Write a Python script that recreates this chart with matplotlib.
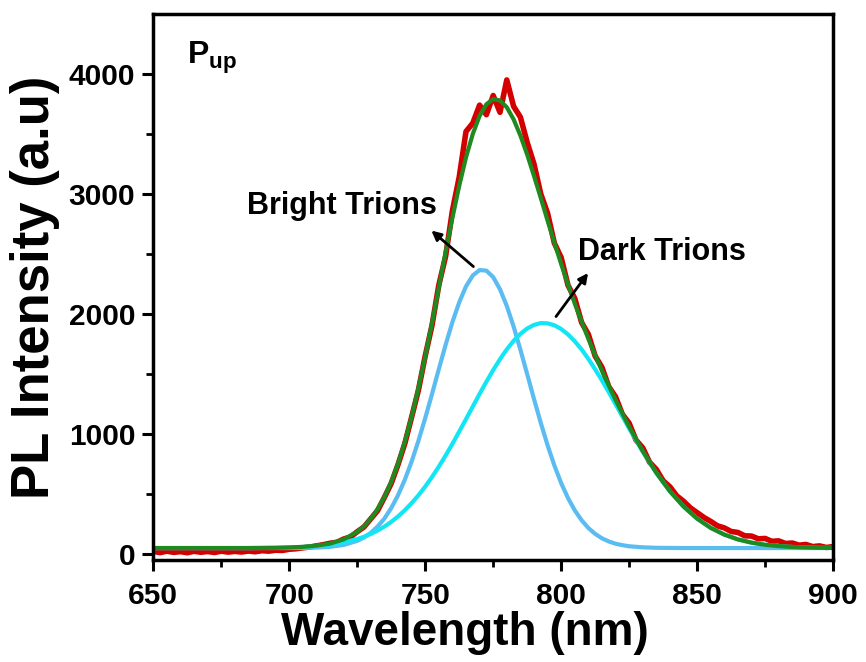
import numpy as np
import matplotlib
matplotlib.use("Agg")
import matplotlib.pyplot as plt

# wavelength grid of the fitted curves (nm): 5 nm steps, 2.5 nm around the peak
fit_wl = ([650 + 5 * i for i in range(16)] +
          [727.5 + 2.5 * i for i in range(39)] +
          [825 + 5 * i for i in range(16)])

bright_trion = [50, 50, 50, 50, 50, 50, 50, 50, 50, 50,
                50, 51, 54, 60, 76, 110,
                138, 177, 229, 296, 383, 490, 619, 770, 943, 1132,
                1333, 1540, 1743, 1932, 2097, 2230, 2321, 2366, 2361, 2307,
                2206, 2067, 1896, 1703, 1499, 1292, 1093, 906, 738, 591,
                467, 364, 282, 217, 168, 131, 105, 86, 74,
                65, 56, 52, 51, 50, 50, 50, 50, 50, 50, 50, 50, 50, 50, 50, 50]

dark_trion = [50, 50, 50, 50, 50, 50, 50, 50, 51, 52,
              55, 59, 66, 77, 96, 125,
              144, 168, 196, 229, 268, 313, 365, 424, 489, 562,
              642, 728, 821, 918, 1020, 1124, 1229, 1334, 1436, 1533,
              1623, 1705, 1776, 1834, 1879, 1909, 1924, 1922, 1906, 1875,
              1830, 1773, 1705, 1626, 1539, 1446, 1349, 1248, 1147,
              1046, 852, 675, 522, 396, 295, 218, 162, 122, 95, 77, 66, 59, 55, 52, 51]

cumulative_fit = [50, 50, 50, 50, 50, 50, 50, 50, 51, 52,
                  55, 60, 70, 87, 122, 185,
                  232, 295, 375, 475, 601, 753, 934, 1144, 1382, 1644,
                  1925, 2218, 2514, 2800, 3067, 3304, 3500, 3650, 3747, 3790,
                  3779, 3722, 3622, 3487, 3328, 3151, 2967, 2778, 2594, 2416,
                  2247, 2087, 1937, 1793, 1657, 1527, 1404, 1284, 1171,
                  1061, 858, 677, 523, 396, 295, 218, 162, 122, 95, 77, 66, 59, 55, 52, 51]

# measured spectrum (nm, counts)
data_wl = [650 + 2.5 * i for i in range(101)]
data_pl = [22, 12, 24, 14, 20, 11, 23, 15, 21, 13,
           24, 16, 22, 17, 25, 19, 28, 24, 32, 30,
           40, 44, 52, 58, 68, 78, 90, 98, 125, 142,
           186, 226, 294, 362, 472, 588, 745, 920, 1140, 1365,
           1650, 1905, 2240, 2480, 2860, 3140, 3520, 3590, 3740, 3660,
           3820, 3680, 3950, 3730, 3640, 3430, 3250, 3000, 2840, 2590,
           2470, 2240, 2130, 1930, 1830, 1650, 1555, 1395, 1310, 1165,
           1090, 950, 885, 765, 705, 610, 560, 485, 440, 385,
           345, 305, 272, 235, 218, 188, 180, 152, 150, 127,
           130, 106, 110, 88, 92, 74, 80, 62, 68, 55, 62]

plt.rcParams['font.family'] = ['Liberation Sans', 'DejaVu Sans']
plt.rcParams['font.weight'] = 'bold'
plt.rcParams['mathtext.fontset'] = 'custom'
plt.rcParams['mathtext.rm'] = 'Liberation Sans:bold'
plt.rcParams['mathtext.bf'] = 'Liberation Sans:bold'

fig = plt.figure(figsize=(8.66, 6.62), dpi=100)
ax = fig.add_axes([0.177, 0.154, 0.785, 0.825])

ax.plot(data_wl, data_pl, color='#d40000', lw=4)
ax.plot(fit_wl, bright_trion, color='#5bbcf2', lw=3)
ax.plot(fit_wl, dark_trion, color='#12e6f5', lw=3)
ax.plot(fit_wl, cumulative_fit, color='#1f8a1f', lw=3)

ax.set_xlim(650, 900)
ax.set_ylim(-50, 4500)
ax.set_xticks([650, 700, 750, 800, 850, 900])
ax.set_yticks([0, 1000, 2000, 3000, 4000])
ax.set_xticks(np.arange(675, 900, 50), minor=True)
ax.set_yticks(np.arange(500, 4500, 1000), minor=True)
ax.tick_params(which='major', direction='out', length=8, width=2.2,
               labelsize=21.5, top=False, right=False)
ax.tick_params(axis='x', which='major', pad=8)
ax.tick_params(axis='y', which='major', pad=5)
ax.tick_params(which='minor', direction='out', length=5, width=2,
               top=False, right=False)
for sp in ax.spines.values():
    sp.set_linewidth(2.5)

ax.set_xlabel('Wavelength (nm)', fontsize=33, fontweight='bold', va='top')
ax.xaxis.set_label_coords(0.459, -0.093)
ax.set_ylabel('PL Intensity (a.u)', fontsize=38, fontweight='bold', labelpad=6)

ax.text(0.05, 0.92, r'$\mathbf{P_{up}}$', transform=ax.transAxes,
        fontsize=23, va='center', ha='left')

ax.annotate('', xy=(751.5, 2710), xytext=(768.5, 2380),
            arrowprops=dict(arrowstyle='-|>', color='black', lw=2,
                            mutation_scale=14))
ax.text(719.5, 2900, 'Bright Trions', fontsize=22, fontweight='bold',
        ha='center', va='center')

ax.annotate('', xy=(810.5, 2360), xytext=(797.5, 1960),
            arrowprops=dict(arrowstyle='-|>', color='black', lw=2,
                            mutation_scale=14))
ax.text(837, 2520, 'Dark Trions', fontsize=22, fontweight='bold',
        ha='center', va='center')

fig.savefig('out.png', dpi=100)
